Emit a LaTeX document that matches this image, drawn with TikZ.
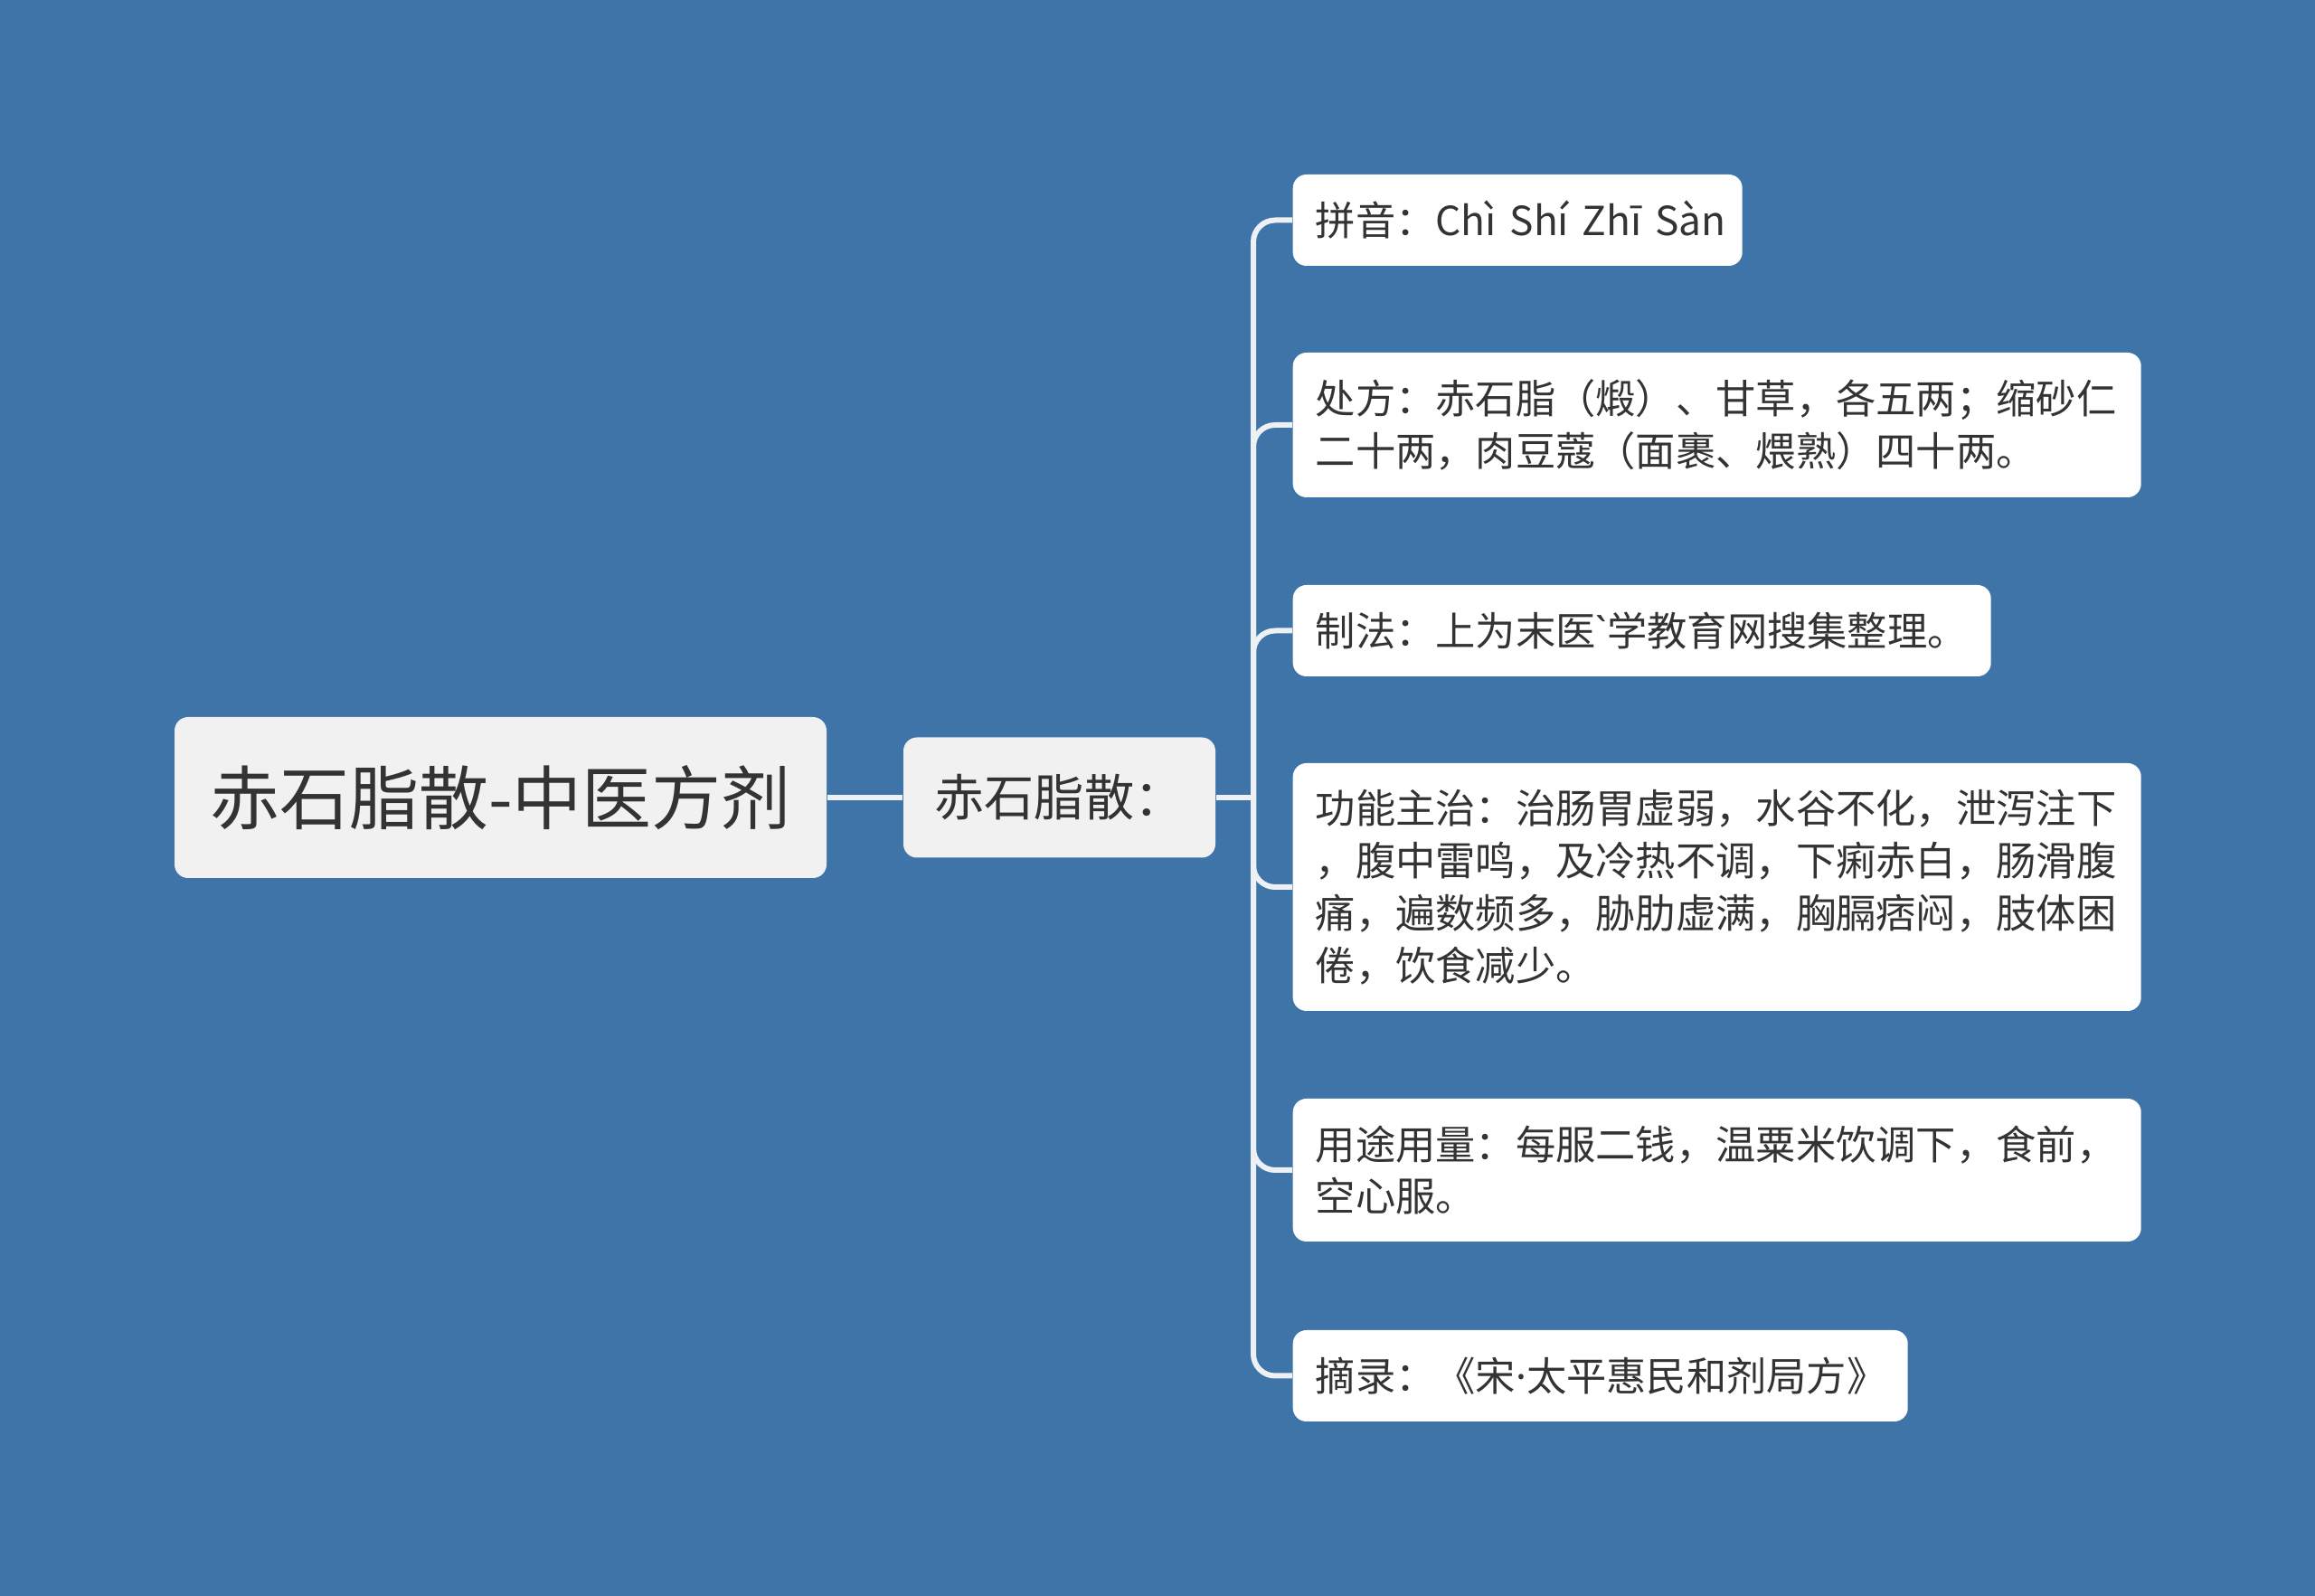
\documentclass[tikz,border=0pt]{standalone}
\usepackage{fontspec}
\newfontfamily\cjk{Noto Sans CJK SC}
\newfontfamily\latin{Noto Sans}
\definecolor{bgblue}{RGB}{62,116,167}
\definecolor{boxgray}{RGB}{241,241,241}
\definecolor{txtgray}{RGB}{51,51,51}
\definecolor{linkwhite}{RGB}{238,241,244}
\tikzset{
	rootbox/.style={fill=boxgray, rounded corners=0.15cm, inner sep=0pt, minimum width=7.21cm, minimum height=1.78cm, font=\cjk\fontsize{21.9}{26}\selectfont},
	subbox/.style={fill=boxgray, rounded corners=0.15cm, inner sep=0pt, minimum width=3.45cm, minimum height=1.33cm, font=\cjk\fontsize{15.7}{19}\selectfont},
	leafbox/.style={anchor=west, fill=white, rounded corners=0.15cm, inner xsep=0.25cm, inner ysep=0pt, align=left, font=\cjk\fontsize{12.6}{16.5}\selectfont},
	link/.style={draw=linkwhite, line width=0.06cm, line cap=butt}
}
\begin{document}
\begin{tikzpicture}[line join=round, text=txtgray]
	%%Kich thuoc
	\def \W{25.6}
	\def \H{17.65}
	\def \trunkx{13.86}
	\def \leafx{14.29}
	%%Nen
	\fill[bgblue] (0,0) rectangle (\W,-\H);
	\useasboundingbox (0,0) rectangle (\W,-\H);
	%%Cac nut
	\node[rootbox] (root) at (5.535,-8.82) {赤石脂散-中医方剂};
	\node[subbox] (sub) at (11.715,-8.82) {赤石脂散：};
	\coordinate (fork) at (\trunkx,-8.82);
	\node[leafbox, text width=4.47cm, minimum height=1.01cm] (pinyin) at (\leafx,-2.435) {拼音：Chì~Shí~Zhī~Sàn};
	\node[leafbox, text width=8.88cm, minimum height=1.60cm] (chufang) at (\leafx,-4.70) {处方：赤石脂（煅）、甘草，各五两；缩砂仁\\二十两，肉豆蔻（面裹、煨熟）四十两。};
	\node[leafbox, text width=7.22cm, minimum height=1.01cm] (zhifa) at (\leafx,-6.975) {制法：上为末医{\latin`}学教育网搜集整理。};
	\node[leafbox, text width=8.88cm, minimum height=2.74cm] (gongneng) at (\leafx,-9.81) {功能主治：治肠胃虚弱，水谷不化，泄泻注下\\，腹中雷鸣，及冷热不调，下痢赤白，肠滑腹\\痛，遍数频多，胁肋虚满，胸膈痞闷，肢体困\\倦，饮食减少。};
	\node[leafbox, text width=8.88cm, minimum height=1.58cm] (yongtu) at (\leafx,-12.94) {用途用量：每服二钱，温粟米饮调下，食前，\\空心服。};
	\node[leafbox, text width=6.30cm, minimum height=1.01cm] (zhailu) at (\leafx,-15.215) {摘录：《宋{\latin·}太平惠民和剂局方》};
	%%Duong noi
	\draw[link] (root.east) -- (sub.west);
	\draw[link] (sub.east) -- (fork);
	\foreach \n in {pinyin,chufang,zhifa,gongneng,yongtu,zhailu}
		\draw[link, rounded corners=0.24cm] (fork) |- (\n.west);
\end{tikzpicture}
\end{document}
